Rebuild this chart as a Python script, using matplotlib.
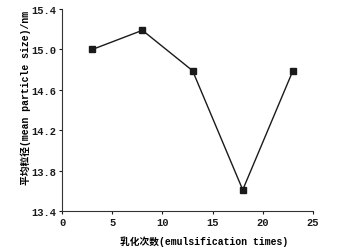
import matplotlib
matplotlib.use("Agg")
import matplotlib.pyplot as plt

emulsification_times = [3, 8, 13, 18, 23]
mean_particle_size = [15.0, 15.19, 14.79, 13.61, 14.79]
x_ticks = [0, 5, 10, 15, 20, 25]
y_ticks = [13.4, 13.8, 14.2, 14.6, 15.0, 15.4]
x_label = "乳化次数(emulsification times)"
y_label = "平均粒径(mean particle size)/nm"

fam = ['Liberation Mono', 'Noto Sans CJK SC']
plt.rcParams['font.family'] = fam

fig = plt.figure(figsize=(3.47, 2.53), dpi=100)
ax = fig.add_axes([0.179, 0.162, 0.723, 0.798])
ax.plot(emulsification_times, mean_particle_size, color='#1a1a1a', lw=1.0,
        marker='s', markersize=5, markerfacecolor='#1a1a1a', markeredgecolor='#1a1a1a')
ax.set_xlim(0, 25)
ax.set_ylim(13.4, 15.4)
ax.set_xticks(x_ticks)
ax.set_yticks(y_ticks)
ax.set_xticklabels([str(v) for v in x_ticks], fontsize=7.5, fontweight='bold')
ax.set_yticklabels([f"{v:.1f}" for v in y_ticks], fontsize=7.5, fontweight='bold')
ax.spines['top'].set_visible(False)
ax.spines['right'].set_visible(False)
for s in ['left', 'bottom']:
    ax.spines[s].set_linewidth(0.8)
    ax.spines[s].set_color('#333333')
ax.tick_params(direction='out', length=2.5, width=0.8, pad=2, colors='#1a1a1a')
ax.set_xlabel(x_label, fontsize=7, fontweight='bold')
ax.set_ylabel(y_label, fontsize=7, fontweight='bold')
ax.xaxis.set_label_coords(0.566, -0.122)
ax.yaxis.set_label_coords(-0.125, 0.564)
fig.savefig("out.png", dpi=100)
